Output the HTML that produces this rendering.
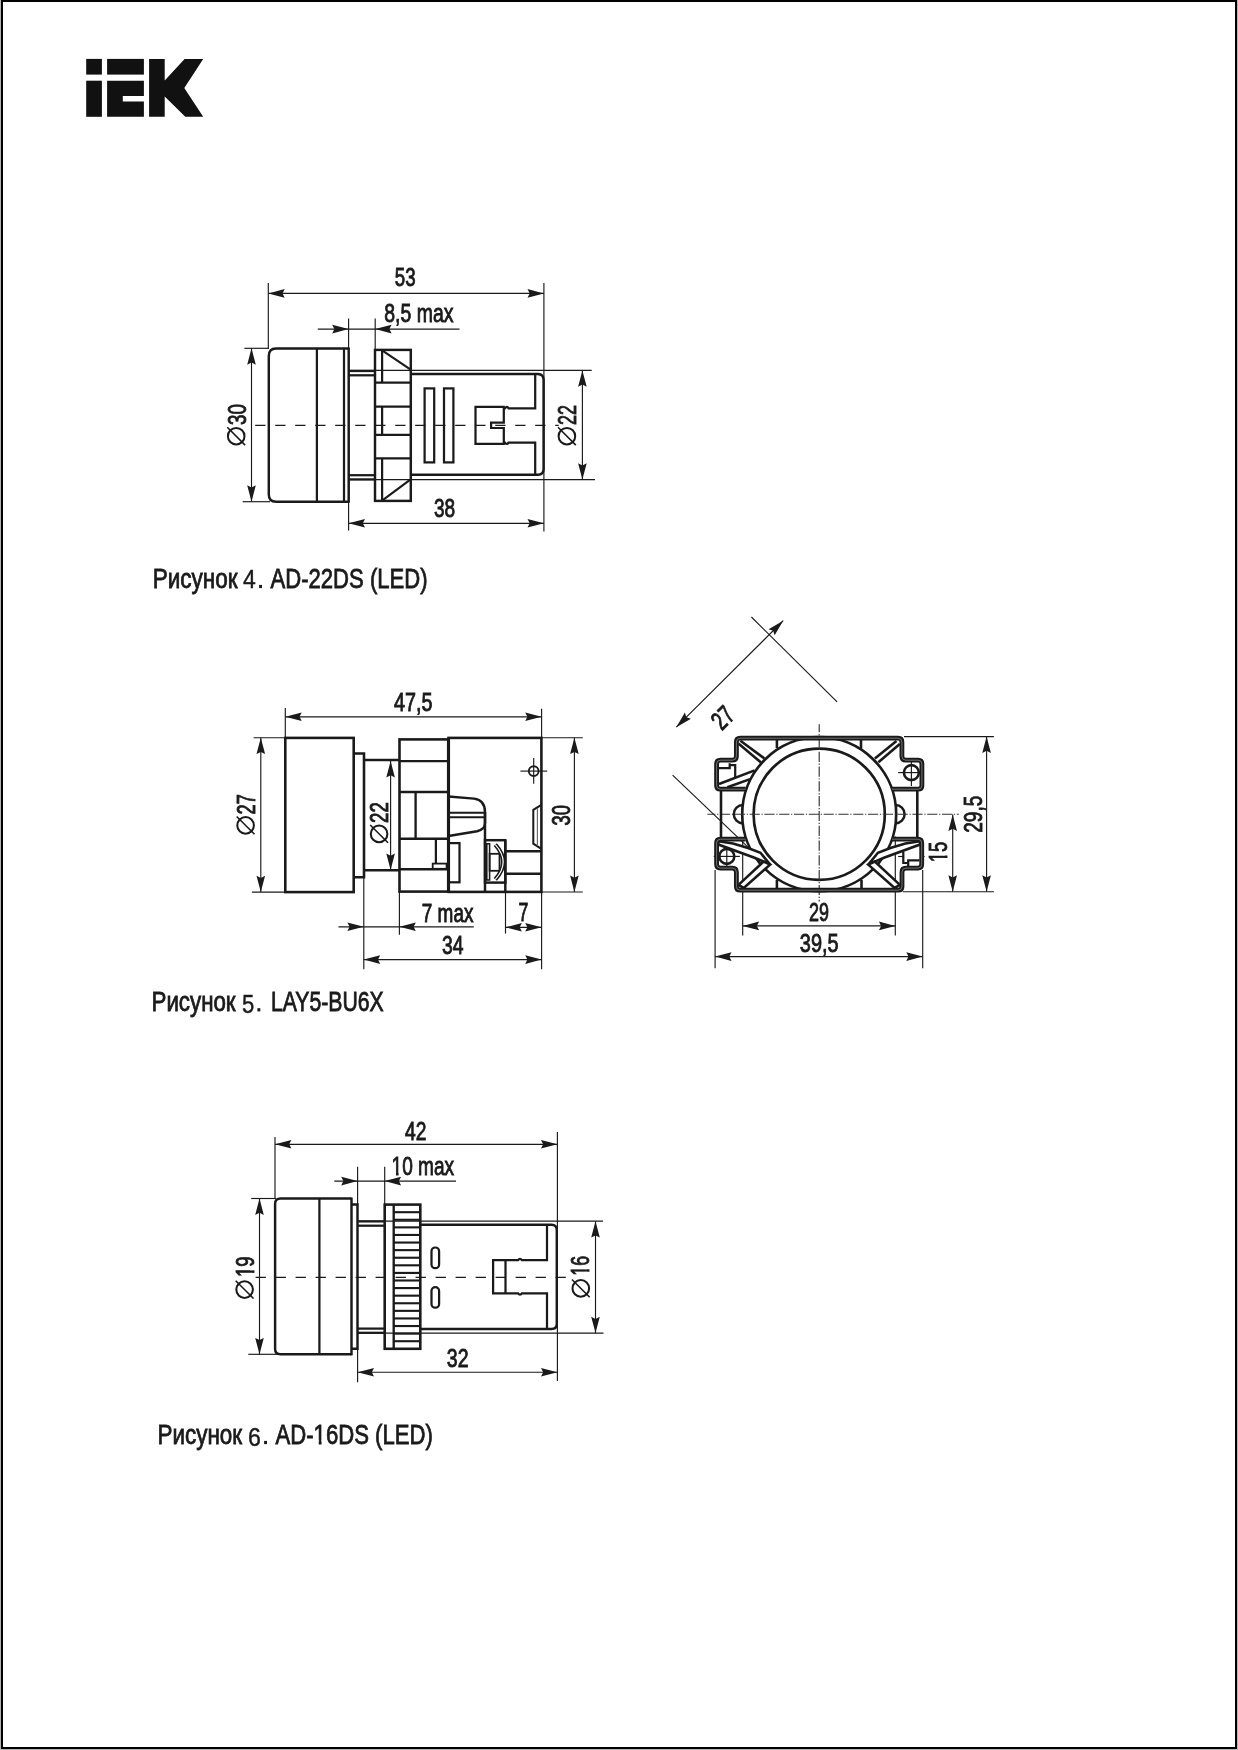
<!DOCTYPE html>
<html><head><meta charset="utf-8"><title>IEK</title>
<style>
html,body{margin:0;padding:0;background:#fff;}
body{width:1238px;height:1750px;overflow:hidden;font-family:"Liberation Sans",sans-serif;}
svg{display:block;will-change:transform;font-family:"Liberation Sans",sans-serif;}
</style></head><body>
<svg width="1238" height="1750" viewBox="0 0 1238 1750" stroke-linecap="butt">
<rect x="0" y="0" width="1238" height="1750" fill="#b4b4b4"/>
<rect x="1" y="0" width="1236" height="1749" fill="#000"/>
<rect x="3" y="2" width="1232" height="1745" fill="#fff"/>
<g fill="#111">
<rect x="86.2" y="58.9" width="15.7" height="15.7"/>
<rect x="86.2" y="80.7" width="15.7" height="36.1"/>
<rect x="107.1" y="58.9" width="36.8" height="15.7"/>
<path d="M107.1,80.7H143.9V96H122.8V101.4H143.9V116.8H107.1Z"/>
<path d="M149.1,58.9H164.7V80.5L184.6,58.9H203.2L184.3,88L203.2,116.8H185.3L164.7,96.5V116.8H149.1Z"/>
</g>
<line x1="268.3" y1="282.9" x2="268.3" y2="349" stroke="#1a1a1a" stroke-width="1.15" />
<line x1="543.9" y1="282.9" x2="543.9" y2="531.6" stroke="#1a1a1a" stroke-width="1.15" />
<line x1="348.6" y1="318.5" x2="348.6" y2="349" stroke="#1a1a1a" stroke-width="1.15" />
<line x1="348.6" y1="501" x2="348.6" y2="530.5" stroke="#1a1a1a" stroke-width="1.15" />
<line x1="375.2" y1="318.5" x2="375.2" y2="351" stroke="#1a1a1a" stroke-width="1.15" />
<line x1="268.3" y1="293.4" x2="543.9" y2="293.4" stroke="#1a1a1a" stroke-width="1.15" />
<polygon points="268.3,293.4 284.7,289.1 282.5,293.4 284.7,297.7" fill="#1a1a1a"/>
<polygon points="543.9,293.4 527.5,297.7 529.7,293.4 527.5,289.1" fill="#1a1a1a"/>
<line x1="317.8" y1="329.1" x2="459.5" y2="329.1" stroke="#1a1a1a" stroke-width="1.15" />
<polygon points="348.6,329.1 332.2,333.4 334.4,329.1 332.2,324.8" fill="#1a1a1a"/>
<polygon points="375.2,329.1 391.6,324.8 389.4,329.1 391.6,333.4" fill="#1a1a1a"/>
<line x1="244.4" y1="348.3" x2="269" y2="348.3" stroke="#1a1a1a" stroke-width="1.15" />
<line x1="242.7" y1="501.7" x2="270" y2="501.7" stroke="#1a1a1a" stroke-width="1.15" />
<line x1="251.5" y1="348.3" x2="251.5" y2="501.7" stroke="#1a1a1a" stroke-width="1.15" />
<polygon points="251.5,348.3 255.8,364.7 251.5,362.5 247.2,364.7" fill="#1a1a1a"/>
<polygon points="251.5,501.7 247.2,485.3 251.5,487.5 255.8,485.3" fill="#1a1a1a"/>
<line x1="348.6" y1="370.4" x2="591.7" y2="370.4" stroke="#1a1a1a" stroke-width="1.15" />
<line x1="348.6" y1="479.6" x2="595" y2="479.6" stroke="#1a1a1a" stroke-width="1.15" />
<line x1="582.4" y1="370.4" x2="582.4" y2="479.6" stroke="#1a1a1a" stroke-width="1.15" />
<polygon points="582.4,370.4 586.7,386.8 582.4,384.6 578.1,386.8" fill="#1a1a1a"/>
<polygon points="582.4,479.6 578.1,463.2 582.4,465.4 586.7,463.2" fill="#1a1a1a"/>
<line x1="348.6" y1="523.3" x2="543.9" y2="523.3" stroke="#1a1a1a" stroke-width="1.15" />
<polygon points="348.6,523.3 365,519 362.8,523.3 365,527.6" fill="#1a1a1a"/>
<polygon points="543.9,523.3 527.5,527.6 529.7,523.3 527.5,519" fill="#1a1a1a"/>
<line x1="255.2" y1="425.3" x2="558.7" y2="425.3" stroke="#1a1a1a" stroke-width="1.15" stroke-dasharray="10.3 9.7"/>
<path d="M348.7,348.5H276Q268.8,348.5 268.8,356V494.5Q268.8,501.7 276,501.7H348.7" stroke="#1a1a1a" stroke-width="2.46" fill="none" />
<line x1="316.9" y1="348.5" x2="316.9" y2="501.7" stroke="#1a1a1a" stroke-width="2.24" />
<line x1="344" y1="348.5" x2="344" y2="501.7" stroke="#1a1a1a" stroke-width="2.24" />
<line x1="348.7" y1="347.5" x2="348.7" y2="502.7" stroke="#1a1a1a" stroke-width="2.46" />
<line x1="348.7" y1="371" x2="375" y2="371" stroke="#1a1a1a" stroke-width="2.24" />
<line x1="348.7" y1="375.3" x2="375" y2="375.3" stroke="#1a1a1a" stroke-width="2.24" />
<line x1="348.7" y1="475.2" x2="375" y2="475.2" stroke="#1a1a1a" stroke-width="2.24" />
<line x1="348.7" y1="479.4" x2="375" y2="479.4" stroke="#1a1a1a" stroke-width="2.24" />
<rect x="375" y="349.9" width="35.8" height="151" rx="0" stroke="#1a1a1a" stroke-width="2.46" fill="none"/>
<line x1="375" y1="382.7" x2="410.8" y2="382.7" stroke="#1a1a1a" stroke-width="2.24" />
<line x1="375" y1="406.6" x2="410.8" y2="406.6" stroke="#1a1a1a" stroke-width="2.24" />
<line x1="375" y1="434.9" x2="410.8" y2="434.9" stroke="#1a1a1a" stroke-width="2.24" />
<line x1="375" y1="458.3" x2="410.8" y2="458.3" stroke="#1a1a1a" stroke-width="2.24" />
<line x1="382.1" y1="349.9" x2="382.1" y2="382.7" stroke="#1a1a1a" stroke-width="2.24" />
<line x1="382.1" y1="406.6" x2="382.1" y2="434.9" stroke="#1a1a1a" stroke-width="2.24" />
<line x1="382.1" y1="458.3" x2="382.1" y2="500.9" stroke="#1a1a1a" stroke-width="2.24" />
<line x1="382.1" y1="350.3" x2="410.3" y2="369.4" stroke="#1a1a1a" stroke-width="2.13" />
<line x1="382.4" y1="500.4" x2="410.3" y2="479.6" stroke="#1a1a1a" stroke-width="2.13" />
<path d="M410.8,374.0H538Q543.6,374.3 543.6,380V469Q543.6,474.7 538,474.7H410.8" stroke="#1a1a1a" stroke-width="2.46" fill="none" />
<rect x="424.6" y="388.4" width="9.6" height="74" rx="0" stroke="#1a1a1a" stroke-width="2.24" fill="none"/>
<rect x="444" y="388.4" width="9.4" height="74" rx="0" stroke="#1a1a1a" stroke-width="2.24" fill="none"/>
<path d="M535.2,374.3V408.3H508.5Q507,405.5 505,408.3H503.8" stroke="#1a1a1a" stroke-width="2.24" fill="none" />
<path d="M535.2,474.7V442.6H508.5Q507,445.4 505,442.6H503.8" stroke="#1a1a1a" stroke-width="2.24" fill="none" />
<path d="M503.8,406.8H475.5V443.8H503.8V428H491.1V422.6H503.8Z" stroke="#1a1a1a" stroke-width="2.24" fill="none" />
<g transform="translate(394.8,285.9) scale(0.7203,1)"><text font-size="26" fill="#1a1a1a" stroke="#1a1a1a" stroke-width="0.8" vector-effect="non-scaling-stroke">53</text></g>
<g transform="translate(384.3,322.3) scale(0.7481,1)"><text font-size="26" fill="#1a1a1a" stroke="#1a1a1a" stroke-width="0.8" vector-effect="non-scaling-stroke">8,5 max</text></g>
<g transform="translate(433.9,517.2) scale(0.7342,1)"><text font-size="26" fill="#1a1a1a" stroke="#1a1a1a" stroke-width="0.8" vector-effect="non-scaling-stroke">38</text></g>
<g transform="translate(246,424.9) rotate(-90) scale(0.7203,1)"><text font-size="26" fill="#1a1a1a" stroke="#1a1a1a" stroke-width="0.8" vector-effect="non-scaling-stroke">30</text></g>
<circle cx="236.2" cy="436.2" r="8.3" stroke="#1a1a1a" stroke-width="2.02" fill="none"/>
<line x1="227.3" y1="427.3" x2="245.1" y2="445.1" stroke="#1a1a1a" stroke-width="1.57" />
<g transform="translate(575.9,424.9) rotate(-90) scale(0.6892,1)"><text font-size="26" fill="#1a1a1a" stroke="#1a1a1a" stroke-width="0.8" vector-effect="non-scaling-stroke">22</text></g>
<circle cx="566.9" cy="436.2" r="8.3" stroke="#1a1a1a" stroke-width="2.02" fill="none"/>
<line x1="558" y1="427.3" x2="575.8" y2="445.1" stroke="#1a1a1a" stroke-width="1.57" />
<line x1="285.3" y1="708" x2="285.3" y2="738" stroke="#1a1a1a" stroke-width="1.15" />
<line x1="541.6" y1="708.8" x2="541.6" y2="738" stroke="#1a1a1a" stroke-width="1.15" />
<line x1="541.6" y1="891" x2="541.6" y2="969.3" stroke="#1a1a1a" stroke-width="1.15" />
<line x1="285.3" y1="716.8" x2="541.6" y2="716.8" stroke="#1a1a1a" stroke-width="1.15" />
<polygon points="285.3,716.8 301.7,712.5 299.5,716.8 301.7,721.1" fill="#1a1a1a"/>
<polygon points="541.6,716.8 525.2,721.1 527.4,716.8 525.2,712.5" fill="#1a1a1a"/>
<line x1="253.6" y1="737.7" x2="285.3" y2="737.7" stroke="#1a1a1a" stroke-width="1.15" />
<line x1="251.9" y1="892.1" x2="285.3" y2="892.1" stroke="#1a1a1a" stroke-width="1.15" />
<line x1="260.8" y1="737.7" x2="260.8" y2="892.1" stroke="#1a1a1a" stroke-width="1.15" />
<polygon points="260.8,737.7 265.1,754.1 260.8,751.9 256.5,754.1" fill="#1a1a1a"/>
<polygon points="260.8,892.1 256.5,875.7 260.8,877.9 265.1,875.7" fill="#1a1a1a"/>
<line x1="390.6" y1="761" x2="390.6" y2="870" stroke="#1a1a1a" stroke-width="1.15" />
<polygon points="390.6,761 394.9,777.4 390.6,775.2 386.3,777.4" fill="#1a1a1a"/>
<polygon points="390.6,870 386.3,853.6 390.6,855.8 394.9,853.6" fill="#1a1a1a"/>
<line x1="541.6" y1="737.7" x2="582.8" y2="737.7" stroke="#1a1a1a" stroke-width="1.15" />
<line x1="541.6" y1="892" x2="582.8" y2="892" stroke="#1a1a1a" stroke-width="1.15" />
<line x1="574.4" y1="737.7" x2="574.4" y2="892" stroke="#1a1a1a" stroke-width="1.15" />
<polygon points="574.4,737.7 578.7,754.1 574.4,751.9 570.1,754.1" fill="#1a1a1a"/>
<polygon points="574.4,892 570.1,875.6 574.4,877.8 578.7,875.6" fill="#1a1a1a"/>
<line x1="363.8" y1="870.4" x2="363.8" y2="969.3" stroke="#1a1a1a" stroke-width="1.15" />
<line x1="399.4" y1="891.6" x2="399.4" y2="934.7" stroke="#1a1a1a" stroke-width="1.15" />
<line x1="505.5" y1="892" x2="505.5" y2="933.6" stroke="#1a1a1a" stroke-width="1.15" />
<line x1="338.5" y1="926.8" x2="473.8" y2="926.8" stroke="#1a1a1a" stroke-width="1.15" />
<polygon points="363.8,926.8 347.4,931.1 349.6,926.8 347.4,922.5" fill="#1a1a1a"/>
<polygon points="399.4,926.8 415.8,922.5 413.6,926.8 415.8,931.1" fill="#1a1a1a"/>
<line x1="505.5" y1="927.3" x2="541.6" y2="927.3" stroke="#1a1a1a" stroke-width="1.15" />
<polygon points="505.5,927.3 521.9,923 519.7,927.3 521.9,931.6" fill="#1a1a1a"/>
<polygon points="541.6,927.3 525.2,931.6 527.4,927.3 525.2,923" fill="#1a1a1a"/>
<line x1="363.8" y1="959.6" x2="541.6" y2="959.6" stroke="#1a1a1a" stroke-width="1.15" />
<polygon points="363.8,959.6 380.2,955.3 378,959.6 380.2,963.9" fill="#1a1a1a"/>
<polygon points="541.6,959.6 525.2,963.9 527.4,959.6 525.2,955.3" fill="#1a1a1a"/>
<line x1="520.4" y1="771.1" x2="547.2" y2="771.1" stroke="#1a1a1a" stroke-width="1.15" />
<line x1="533.7" y1="758" x2="533.7" y2="783.8" stroke="#1a1a1a" stroke-width="1.15" />
<rect x="285.3" y="737.9" width="68.4" height="154.2" rx="0" stroke="#1a1a1a" stroke-width="2.58" fill="none"/>
<path d="M353.7,753.5H364V877.2H353.7" stroke="#1a1a1a" stroke-width="2.58" fill="none" />
<line x1="364" y1="759.9" x2="399.5" y2="759.9" stroke="#1a1a1a" stroke-width="2.46" />
<line x1="364" y1="870.3" x2="399.5" y2="870.3" stroke="#1a1a1a" stroke-width="2.46" />
<rect x="399.5" y="739.4" width="49" height="152.2" rx="0" stroke="#1a1a1a" stroke-width="2.58" fill="none"/>
<line x1="399.5" y1="761.1" x2="448.5" y2="761.1" stroke="#1a1a1a" stroke-width="2.35" />
<line x1="399.5" y1="792" x2="448.5" y2="792" stroke="#1a1a1a" stroke-width="2.35" />
<line x1="399.5" y1="838.7" x2="448.5" y2="838.7" stroke="#1a1a1a" stroke-width="2.35" />
<line x1="399.5" y1="869.2" x2="448.5" y2="869.2" stroke="#1a1a1a" stroke-width="2.35" />
<line x1="415.6" y1="792" x2="415.6" y2="838.7" stroke="#1a1a1a" stroke-width="2.35" />
<line x1="435.9" y1="838.7" x2="435.9" y2="864" stroke="#1a1a1a" stroke-width="2.24" />
<rect x="432.7" y="863.6" width="13.9" height="5.2" rx="0" stroke="#1a1a1a" stroke-width="1.79" fill="none"/>
<rect x="448.5" y="737.9" width="92.9" height="154" rx="0" stroke="#1a1a1a" stroke-width="2.58" fill="none"/>
<line x1="448.5" y1="737.9" x2="448.5" y2="891.9" stroke="#1a1a1a" stroke-width="3.14" />
<circle cx="533.7" cy="771.1" r="4.9" stroke="#1a1a1a" stroke-width="1.9" fill="none"/>
<path d="M448.5,796.5L474,798.6Q485,800 485,812V823Q485,829.5 477,831.2L448.5,836" stroke="#1a1a1a" stroke-width="2.46" fill="none" />
<line x1="448.5" y1="812.7" x2="485" y2="812.7" stroke="#1a1a1a" stroke-width="2.02" />
<line x1="448.5" y1="817.2" x2="485" y2="817.2" stroke="#1a1a1a" stroke-width="2.02" />
<line x1="485" y1="812" x2="485" y2="892" stroke="#1a1a1a" stroke-width="2.46" />
<rect x="448.5" y="843.1" width="11" height="39.2" rx="0" stroke="#1a1a1a" stroke-width="2.24" fill="none"/>
<rect x="485" y="840.2" width="20.3" height="42.4" rx="0" stroke="#1a1a1a" stroke-width="2.46" fill="none"/>
<line x1="505.3" y1="840.2" x2="505.3" y2="892" stroke="#1a1a1a" stroke-width="2.46" />
<rect x="486.8" y="843.8" width="2.8" height="36.2" rx="0" stroke="#1a1a1a" stroke-width="1.57" fill="none"/>
<rect x="489.6" y="853.8" width="9.9" height="17" rx="0" stroke="#1a1a1a" stroke-width="1.79" fill="none"/>
<path d="M495.3,844.6Q511,862 495.3,879.4" stroke="#1a1a1a" stroke-width="4.26" fill="none" />
<path d="M495.3,844.6Q511,862 495.3,879.4" stroke="#fff" stroke-width="1.15" fill="none" />
<line x1="505.3" y1="851.2" x2="541.4" y2="851.2" stroke="#1a1a1a" stroke-width="2.46" />
<line x1="505.3" y1="873.8" x2="541.4" y2="873.8" stroke="#1a1a1a" stroke-width="2.46" />
<path d="M541.4,804.8L533.3,809.8V843.6L541.4,848.8" stroke="#1a1a1a" stroke-width="2.02" fill="none" />
<line x1="537.4" y1="808" x2="537.4" y2="846" stroke="#666" stroke-width="1.15" />
<g transform="translate(394,711.4) scale(0.7605,1)"><text font-size="26" fill="#1a1a1a" stroke="#1a1a1a" stroke-width="0.8" vector-effect="non-scaling-stroke">47,5</text></g>
<g transform="translate(254.6,814.4) rotate(-90) scale(0.7065,1)"><text font-size="26" fill="#1a1a1a" stroke="#1a1a1a" stroke-width="0.8" vector-effect="non-scaling-stroke">27</text></g>
<circle cx="245.6" cy="825.4" r="8.3" stroke="#1a1a1a" stroke-width="2.02" fill="none"/>
<line x1="236.7" y1="816.5" x2="254.5" y2="834.3" stroke="#1a1a1a" stroke-width="1.57" />
<g transform="translate(388,822.9) rotate(-90) scale(0.7203,1)"><text font-size="26" fill="#1a1a1a" stroke="#1a1a1a" stroke-width="0.8" vector-effect="non-scaling-stroke">22</text></g>
<circle cx="379.1" cy="833.9" r="8.3" stroke="#1a1a1a" stroke-width="2.02" fill="none"/>
<line x1="370.2" y1="825" x2="388" y2="842.8" stroke="#1a1a1a" stroke-width="1.57" />
<g transform="translate(570.1,825.5) rotate(-90) scale(0.7065,1)"><text font-size="26" fill="#1a1a1a" stroke="#1a1a1a" stroke-width="0.8" vector-effect="non-scaling-stroke">30</text></g>
<g transform="translate(421.8,921.8) scale(0.7293,1)"><text font-size="26" fill="#1a1a1a" stroke="#1a1a1a" stroke-width="0.8" vector-effect="non-scaling-stroke">7 max</text></g>
<g transform="translate(518.55,921.3) scale(0.6828,1)"><text font-size="26" fill="#1a1a1a" stroke="#1a1a1a" stroke-width="0.8" vector-effect="non-scaling-stroke">7</text></g>
<g transform="translate(442.1,953.9) scale(0.7446,1)"><text font-size="26" fill="#1a1a1a" stroke="#1a1a1a" stroke-width="0.8" vector-effect="non-scaling-stroke">34</text></g>
<line x1="904" y1="736.6" x2="993.9" y2="736.6" stroke="#1a1a1a" stroke-width="1.15" />
<line x1="903" y1="891.7" x2="993.9" y2="891.7" stroke="#1a1a1a" stroke-width="1.15" />
<line x1="986.6" y1="736.6" x2="986.6" y2="891.7" stroke="#1a1a1a" stroke-width="1.15" />
<polygon points="986.6,736.6 990.9,753 986.6,750.8 982.3,753" fill="#1a1a1a"/>
<polygon points="986.6,891.7 982.3,875.3 986.6,877.5 990.9,875.3" fill="#1a1a1a"/>
<line x1="952.7" y1="814.5" x2="952.7" y2="891.7" stroke="#1a1a1a" stroke-width="1.15" />
<polygon points="952.7,814.5 957,830.9 952.7,828.7 948.4,830.9" fill="#1a1a1a"/>
<polygon points="952.7,891.7 948.4,875.3 952.7,877.5 957,875.3" fill="#1a1a1a"/>
<line x1="715.1" y1="870" x2="715.1" y2="968.2" stroke="#1a1a1a" stroke-width="1.15" />
<line x1="922.7" y1="870" x2="922.7" y2="968.2" stroke="#1a1a1a" stroke-width="1.15" />
<line x1="742.7" y1="841" x2="742.7" y2="935.6" stroke="#1a1a1a" stroke-width="1.15" />
<line x1="895.3" y1="836.5" x2="895.3" y2="935.6" stroke="#1a1a1a" stroke-width="1.15" />
<line x1="742.7" y1="925.9" x2="895.3" y2="925.9" stroke="#1a1a1a" stroke-width="1.15" />
<polygon points="742.7,925.9 759.1,921.6 756.9,925.9 759.1,930.2" fill="#1a1a1a"/>
<polygon points="895.3,925.9 878.9,930.2 881.1,925.9 878.9,921.6" fill="#1a1a1a"/>
<line x1="715.1" y1="956.6" x2="922.7" y2="956.6" stroke="#1a1a1a" stroke-width="1.15" />
<polygon points="715.1,956.6 731.5,952.3 729.3,956.6 731.5,960.9" fill="#1a1a1a"/>
<polygon points="922.7,956.6 906.3,960.9 908.5,956.6 906.3,952.3" fill="#1a1a1a"/>
<line x1="676.3" y1="727.2" x2="783.2" y2="620.7" stroke="#1a1a1a" stroke-width="1.15" />
<polygon points="676.3,727.2 684.86,712.56 686.34,717.16 690.94,718.64" fill="#1a1a1a"/>
<polygon points="783.2,620.7 774.64,635.34 773.16,630.74 768.56,629.26" fill="#1a1a1a"/>
<line x1="751.4" y1="617" x2="837.1" y2="701.8" stroke="#1a1a1a" stroke-width="1.15" />
<line x1="672.6" y1="775.2" x2="762.4" y2="860.8" stroke="#1a1a1a" stroke-width="1.15" />
<circle cx="819.2" cy="814.2" r="77" stroke="#1a1a1a" stroke-width="2.69" fill="none"/>
<circle cx="819.2" cy="814.2" r="65.6" stroke="#1a1a1a" stroke-width="2.69" fill="none"/>
<path d="M743,805A9.2,9.2 0 0 0 743,823.4" stroke="#1a1a1a" stroke-width="2.46" fill="none" />
<path d="M895.4,805A9.2,9.2 0 0 1 895.4,823.4" stroke="#1a1a1a" stroke-width="2.46" fill="none" />
<line x1="707.4" y1="814.2" x2="958.8" y2="814.2" stroke="#333" stroke-width="1.15" stroke-dasharray="10.2 1.7 1.2 1.7" stroke-dashoffset="2.2"/>
<line x1="819.2" y1="724.3" x2="819.2" y2="901.5" stroke="#333" stroke-width="1.15" stroke-dasharray="10.2 1.7 1.2 1.7" stroke-dashoffset="2.2"/>
<line x1="898.1" y1="772.6" x2="924" y2="772.6" stroke="#1a1a1a" stroke-width="1.15" />
<line x1="911.4" y1="760" x2="911.4" y2="785.9" stroke="#1a1a1a" stroke-width="1.15" />
<line x1="713.7" y1="856.4" x2="739.9" y2="856.4" stroke="#1a1a1a" stroke-width="1.15" />
<line x1="726.8" y1="843" x2="726.8" y2="867.2" stroke="#1a1a1a" stroke-width="1.15" />
<line x1="898.1" y1="856.5" x2="903.6" y2="856.5" stroke="#1a1a1a" stroke-width="1.15" />
<line x1="921" y1="856.5" x2="924.6" y2="856.5" stroke="#1a1a1a" stroke-width="1.15" />
<line x1="721" y1="790.5" x2="721" y2="838.2" stroke="#1a1a1a" stroke-width="2.58" />
<line x1="917.3" y1="790.5" x2="917.3" y2="838.2" stroke="#1a1a1a" stroke-width="2.58" />
<line x1="740.4" y1="740.7" x2="764.3" y2="758.4" stroke="#1a1a1a" stroke-width="2.58" />
<line x1="738.4" y1="743.6" x2="761" y2="762.6" stroke="#1a1a1a" stroke-width="2.58" />
<line x1="776.9" y1="739.5" x2="776.9" y2="748" stroke="#1a1a1a" stroke-width="2.58" />
<line x1="861" y1="739.5" x2="861" y2="748.6" stroke="#1a1a1a" stroke-width="2.58" />
<path d="M718.7,768.1H729.7V763.2M729.7,765.2H735.2V778.1" stroke="#1a1a1a" stroke-width="2.24" fill="none" />
<line x1="719" y1="784" x2="754.6" y2="770.4" stroke="#1a1a1a" stroke-width="2.58" />
<line x1="727.4" y1="787.2" x2="750.1" y2="779.1" stroke="#1a1a1a" stroke-width="2.58" />
<line x1="874.9" y1="758.4" x2="896.5" y2="741" stroke="#1a1a1a" stroke-width="2.58" />
<line x1="878.4" y1="762.3" x2="899.8" y2="743.9" stroke="#1a1a1a" stroke-width="2.58" />
<circle cx="911.4" cy="772.6" r="7.5" stroke="#1a1a1a" stroke-width="2.58" fill="none"/>
<path d="M718.4,841.3L733,843.5L748,848L760.5,852.8L770.1,864.6L763.6,861.6L754.5,857.8L718.4,844.5Z" stroke="#1a1a1a" stroke-width="2.58" fill="#fff" stroke-linejoin="miter"/>
<path d="M738.5,884.9L763.6,861.6L770.1,864.6L743.8,887.9Z" stroke="#1a1a1a" stroke-width="2.58" fill="#fff" stroke-linejoin="miter"/>
<line x1="776.9" y1="888.5" x2="776.9" y2="880" stroke="#1a1a1a" stroke-width="2.58" />
<path d="M920,841.3L905.4,843.5L890.4,848L877.9,852.8L868.3,864.6L874.8,861.6L883.9,857.8L920,844.5Z" stroke="#1a1a1a" stroke-width="2.58" fill="#fff" stroke-linejoin="miter"/>
<path d="M899.9,884.9L874.8,861.6L868.3,864.6L894.6,887.9Z" stroke="#1a1a1a" stroke-width="2.58" fill="#fff" stroke-linejoin="miter"/>
<line x1="861.5" y1="888.5" x2="861.5" y2="880" stroke="#1a1a1a" stroke-width="2.58" />
<circle cx="726.8" cy="856.4" r="7.5" stroke="#1a1a1a" stroke-width="2.58" fill="none"/>
<path d="M903.3,852V863H908.2M908.2,865.9V860.4H919.5" stroke="#1a1a1a" stroke-width="2.24" fill="none" />
<path d="M745.6,789.2H720.4Q716.6,789.2 716.6,785.4V764Q716.6,760.2 720.4,760.2H732.4Q736.4,760.2 736.4,756.2V742Q736.4,738.2 740.2,738.2H898.1Q901.9,738.2 901.9,742V756.2Q901.9,760.2 905.9,760.2H918.1Q921.9,760.2 921.9,764V785.4Q921.9,789.2 918.1,789.2H892" stroke="#1a1a1a" stroke-width="4.82" fill="none" stroke-linejoin="round"/>
<path d="M745.6,789.2H720.4Q716.6,789.2 716.6,785.4V764Q716.6,760.2 720.4,760.2H732.4Q736.4,760.2 736.4,756.2V742Q736.4,738.2 740.2,738.2H898.1Q901.9,738.2 901.9,742V756.2Q901.9,760.2 905.9,760.2H918.1Q921.9,760.2 921.9,764V785.4Q921.9,789.2 918.1,789.2H892" stroke="#9a9a9a" stroke-width="0.7" fill="none" />
<path d="M745.6,839.2H720.4Q716.6,839.2 716.6,843V864.3Q716.6,868.1 720.4,868.1H732.4Q736.4,868.1 736.4,872.1V886.4Q736.4,890.2 740.2,890.2H898.2Q902,890.2 902,886.4V872.1Q902,868.1 906,868.1H917.9Q921.7,868.1 921.7,864.3V843Q921.7,839.2 917.9,839.2H892" stroke="#1a1a1a" stroke-width="4.82" fill="none" stroke-linejoin="round"/>
<path d="M745.6,839.2H720.4Q716.6,839.2 716.6,843V864.3Q716.6,868.1 720.4,868.1H732.4Q736.4,868.1 736.4,872.1V886.4Q736.4,890.2 740.2,890.2H898.2Q902,890.2 902,886.4V872.1Q902,868.1 906,868.1H917.9Q921.7,868.1 921.7,864.3V843Q921.7,839.2 917.9,839.2H892" stroke="#9a9a9a" stroke-width="0.7" fill="none" />
<g transform="translate(721.67,731.19) rotate(-45) scale(0.7065,1)"><text font-size="26" fill="#1a1a1a" stroke="#1a1a1a" stroke-width="0.8" vector-effect="non-scaling-stroke">27</text></g>
<g transform="translate(982.4,832.7) rotate(-90) scale(0.7309,1)"><text font-size="26" fill="#1a1a1a" stroke="#1a1a1a" stroke-width="0.8" vector-effect="non-scaling-stroke">29,5</text></g>
<g transform="translate(947.2,862.17) rotate(-90) scale(0.7054,1)"><text font-size="26" fill="#1a1a1a" stroke="#1a1a1a" stroke-width="0.8" vector-effect="non-scaling-stroke">15</text><rect x="0.38" y="-3.44" width="5.52" height="4.84" fill="#fff"/><rect x="9.47" y="-3.44" width="5.32" height="4.84" fill="#fff"/></g>
<g transform="translate(809,920.7) scale(0.6892,1)"><text font-size="26" fill="#1a1a1a" stroke="#1a1a1a" stroke-width="0.8" vector-effect="non-scaling-stroke">29</text></g>
<g transform="translate(799.8,951.7) scale(0.7664,1)"><text font-size="26" fill="#1a1a1a" stroke="#1a1a1a" stroke-width="0.8" vector-effect="non-scaling-stroke">39,5</text></g>
<line x1="275" y1="1137.1" x2="275" y2="1199" stroke="#1a1a1a" stroke-width="1.15" />
<line x1="557.4" y1="1132" x2="557.4" y2="1381" stroke="#1a1a1a" stroke-width="1.15" />
<line x1="275" y1="1144.3" x2="557.4" y2="1144.3" stroke="#1a1a1a" stroke-width="1.15" />
<polygon points="275,1144.3 291.4,1140 289.2,1144.3 291.4,1148.6" fill="#1a1a1a"/>
<polygon points="557.4,1144.3 541,1148.6 543.2,1144.3 541,1140" fill="#1a1a1a"/>
<line x1="357.6" y1="1166.8" x2="357.6" y2="1205" stroke="#1a1a1a" stroke-width="1.15" />
<line x1="357.6" y1="1348.5" x2="357.6" y2="1382.3" stroke="#1a1a1a" stroke-width="1.15" />
<line x1="384.7" y1="1166.8" x2="384.7" y2="1205" stroke="#1a1a1a" stroke-width="1.15" />
<line x1="334.3" y1="1181.1" x2="456" y2="1181.1" stroke="#1a1a1a" stroke-width="1.15" />
<polygon points="357.6,1181.1 341.2,1185.4 343.4,1181.1 341.2,1176.8" fill="#1a1a1a"/>
<polygon points="384.7,1181.1 401.1,1176.8 398.9,1181.1 401.1,1185.4" fill="#1a1a1a"/>
<line x1="251.2" y1="1198.5" x2="276" y2="1198.5" stroke="#1a1a1a" stroke-width="1.15" />
<line x1="248.3" y1="1354.3" x2="278" y2="1354.3" stroke="#1a1a1a" stroke-width="1.15" />
<line x1="259.5" y1="1198.5" x2="259.5" y2="1354.3" stroke="#1a1a1a" stroke-width="1.15" />
<polygon points="259.5,1198.5 263.8,1214.9 259.5,1212.7 255.2,1214.9" fill="#1a1a1a"/>
<polygon points="259.5,1354.3 255.2,1337.9 259.5,1340.1 263.8,1337.9" fill="#1a1a1a"/>
<line x1="357.6" y1="1221.1" x2="603" y2="1221.1" stroke="#1a1a1a" stroke-width="1.15" />
<line x1="357.6" y1="1333.1" x2="603.5" y2="1333.1" stroke="#1a1a1a" stroke-width="1.15" />
<line x1="595.5" y1="1221.2" x2="595.5" y2="1333.1" stroke="#1a1a1a" stroke-width="1.15" />
<polygon points="595.5,1221.2 599.8,1237.6 595.5,1235.4 591.2,1237.6" fill="#1a1a1a"/>
<polygon points="595.5,1333.1 591.2,1316.7 595.5,1318.9 599.8,1316.7" fill="#1a1a1a"/>
<line x1="357.6" y1="1372.2" x2="557.4" y2="1372.2" stroke="#1a1a1a" stroke-width="1.15" />
<polygon points="357.6,1372.2 374,1367.9 371.8,1372.2 374,1376.5" fill="#1a1a1a"/>
<polygon points="557.4,1372.2 541,1376.5 543.2,1372.2 541,1367.9" fill="#1a1a1a"/>
<line x1="255.6" y1="1277.3" x2="565.8" y2="1277.3" stroke="#1a1a1a" stroke-width="1.15" stroke-dasharray="10.3 9.7"/>
<path d="M351.5,1198.6H280.5Q275.1,1198.6 275.1,1204V1349Q275.1,1354.3 280.5,1354.3H351.5" stroke="#1a1a1a" stroke-width="2.46" fill="none" />
<line x1="319.4" y1="1198.6" x2="319.4" y2="1354.3" stroke="#1a1a1a" stroke-width="2.24" />
<line x1="351.5" y1="1197.6" x2="351.5" y2="1355.3" stroke="#1a1a1a" stroke-width="2.46" />
<path d="M351.5,1204.6H357.5V1348.8H351.5" stroke="#1a1a1a" stroke-width="2.46" fill="none" />
<line x1="357.5" y1="1221.4" x2="384.7" y2="1221.4" stroke="#1a1a1a" stroke-width="2.24" />
<line x1="357.5" y1="1225.7" x2="384.7" y2="1225.7" stroke="#1a1a1a" stroke-width="2.24" />
<line x1="357.5" y1="1328.6" x2="384.7" y2="1328.6" stroke="#1a1a1a" stroke-width="2.24" />
<line x1="357.5" y1="1332.8" x2="384.7" y2="1332.8" stroke="#1a1a1a" stroke-width="2.24" />
<rect x="384.7" y="1204.6" width="35.6" height="144.2" rx="0" stroke="#1a1a1a" stroke-width="2.58" fill="none"/>
<line x1="393.7" y1="1204.6" x2="393.7" y2="1348.8" stroke="#1a1a1a" stroke-width="2.35" />
<line x1="393.7" y1="1212.19" x2="420.3" y2="1212.19" stroke="#1a1a1a" stroke-width="2.13" />
<line x1="393.7" y1="1219.78" x2="420.3" y2="1219.78" stroke="#1a1a1a" stroke-width="2.13" />
<line x1="393.7" y1="1227.37" x2="420.3" y2="1227.37" stroke="#1a1a1a" stroke-width="2.13" />
<line x1="393.7" y1="1234.96" x2="420.3" y2="1234.96" stroke="#1a1a1a" stroke-width="2.13" />
<line x1="393.7" y1="1242.55" x2="420.3" y2="1242.55" stroke="#1a1a1a" stroke-width="2.13" />
<line x1="393.7" y1="1250.14" x2="420.3" y2="1250.14" stroke="#1a1a1a" stroke-width="2.13" />
<line x1="393.7" y1="1257.73" x2="420.3" y2="1257.73" stroke="#1a1a1a" stroke-width="2.13" />
<line x1="393.7" y1="1265.32" x2="420.3" y2="1265.32" stroke="#1a1a1a" stroke-width="2.13" />
<line x1="393.7" y1="1272.91" x2="420.3" y2="1272.91" stroke="#1a1a1a" stroke-width="2.13" />
<line x1="393.7" y1="1280.49" x2="420.3" y2="1280.49" stroke="#1a1a1a" stroke-width="2.13" />
<line x1="393.7" y1="1288.08" x2="420.3" y2="1288.08" stroke="#1a1a1a" stroke-width="2.13" />
<line x1="393.7" y1="1295.67" x2="420.3" y2="1295.67" stroke="#1a1a1a" stroke-width="2.13" />
<line x1="393.7" y1="1303.26" x2="420.3" y2="1303.26" stroke="#1a1a1a" stroke-width="2.13" />
<line x1="393.7" y1="1310.85" x2="420.3" y2="1310.85" stroke="#1a1a1a" stroke-width="2.13" />
<line x1="393.7" y1="1318.44" x2="420.3" y2="1318.44" stroke="#1a1a1a" stroke-width="2.13" />
<line x1="393.7" y1="1326.03" x2="420.3" y2="1326.03" stroke="#1a1a1a" stroke-width="2.13" />
<line x1="393.7" y1="1333.62" x2="420.3" y2="1333.62" stroke="#1a1a1a" stroke-width="2.13" />
<line x1="393.7" y1="1341.21" x2="420.3" y2="1341.21" stroke="#1a1a1a" stroke-width="2.13" />
<path d="M420.3,1224.8H551.5Q556.8,1224.8 556.8,1230.2V1323.8Q556.8,1329.1 551.5,1329.1H420.3" stroke="#1a1a1a" stroke-width="2.46" fill="none" />
<path d="M547,1224.8V1260.2H522Q520,1257.6 518,1260.2H493.1V1293.3H518Q520,1295.9 522,1293.3H547V1329.1" stroke="#1a1a1a" stroke-width="2.24" fill="none" />
<line x1="505.5" y1="1260.2" x2="505.5" y2="1293.3" stroke="#1a1a1a" stroke-width="2.24" />
<rect x="431.5" y="1247.5" width="7.6" height="20.7" rx="3.8" stroke="#1a1a1a" stroke-width="2.24" fill="none"/>
<rect x="431.5" y="1287.1" width="7.6" height="20.6" rx="3.8" stroke="#1a1a1a" stroke-width="2.24" fill="none"/>
<g transform="translate(405.1,1139.6) scale(0.7411,1)"><text font-size="26" fill="#1a1a1a" stroke="#1a1a1a" stroke-width="0.8" vector-effect="non-scaling-stroke">42</text></g>
<g transform="translate(391.62,1175.1) scale(0.7329,1)"><text font-size="26" fill="#1a1a1a" stroke="#1a1a1a" stroke-width="0.8" vector-effect="non-scaling-stroke">10 max</text><rect x="0.38" y="-3.44" width="5.54" height="4.84" fill="#fff"/><rect x="9.45" y="-3.44" width="5.34" height="4.84" fill="#fff"/></g>
<g transform="translate(446.8,1366.6) scale(0.7515,1)"><text font-size="26" fill="#1a1a1a" stroke="#1a1a1a" stroke-width="0.8" vector-effect="non-scaling-stroke">32</text></g>
<g transform="translate(253.7,1277.12) rotate(-90) scale(0.7159,1)"><text font-size="26" fill="#1a1a1a" stroke="#1a1a1a" stroke-width="0.8" vector-effect="non-scaling-stroke">19</text><rect x="0.38" y="-3.44" width="5.53" height="4.84" fill="#fff"/><rect x="9.46" y="-3.44" width="5.33" height="4.84" fill="#fff"/></g>
<circle cx="244.6" cy="1289.6" r="8.3" stroke="#1a1a1a" stroke-width="2.02" fill="none"/>
<line x1="235.7" y1="1280.7" x2="253.5" y2="1298.5" stroke="#1a1a1a" stroke-width="1.57" />
<g transform="translate(589.2,1275.76) rotate(-90) scale(0.6842,1)"><text font-size="26" fill="#1a1a1a" stroke="#1a1a1a" stroke-width="0.8" vector-effect="non-scaling-stroke">16</text><rect x="0.38" y="-3.44" width="5.5" height="4.84" fill="#fff"/><rect x="9.49" y="-3.44" width="5.3" height="4.84" fill="#fff"/></g>
<circle cx="580.8" cy="1288.4" r="8.3" stroke="#1a1a1a" stroke-width="2.02" fill="none"/>
<line x1="571.9" y1="1279.5" x2="589.7" y2="1297.3" stroke="#1a1a1a" stroke-width="1.57" />
<g transform="translate(152.8,587.9) scale(0.7898,1)"><text font-size="28.5" fill="#1a1a1a" stroke="#1a1a1a" stroke-width="0.75" vector-effect="non-scaling-stroke">Рисунок</text></g>
<text transform="translate(243.1,588.3) scale(0.8828,1)" font-size="26.0" fill="#1a1a1a" stroke="#1a1a1a" stroke-width="0.45">4</text>
<rect x="259.1" y="584.9" width="2.9" height="3.2" fill="#1a1a1a"/>
<g transform="translate(270.5,587.9) scale(0.7753,1)"><text font-size="28.5" fill="#1a1a1a" stroke="#1a1a1a" stroke-width="0.75" vector-effect="non-scaling-stroke">AD-22DS (LED)</text></g>
<g transform="translate(151.5,1011.2) scale(0.7833,1)"><text font-size="28.5" fill="#1a1a1a" stroke="#1a1a1a" stroke-width="0.75" vector-effect="non-scaling-stroke">Рисунок</text></g>
<text transform="translate(241.9,1012.8) scale(0.8483,1)" font-size="26.0" fill="#1a1a1a" stroke="#1a1a1a" stroke-width="0.45">5</text>
<rect x="257.4" y="1008.2" width="2.9" height="3.2" fill="#1a1a1a"/>
<g transform="translate(271,1011.2) scale(0.7446,1)"><text font-size="28.5" fill="#1a1a1a" stroke="#1a1a1a" stroke-width="0.75" vector-effect="non-scaling-stroke">LAY5-BU6X</text></g>
<g transform="translate(157.6,1443.9) scale(0.7870,1)"><text font-size="28.5" fill="#1a1a1a" stroke="#1a1a1a" stroke-width="0.75" vector-effect="non-scaling-stroke">Рисунок</text></g>
<text transform="translate(248.1,1445.5) scale(0.8897,1)" font-size="26.0" fill="#1a1a1a" stroke="#1a1a1a" stroke-width="0.45">6</text>
<rect x="264.1" y="1440.9" width="2.9" height="3.2" fill="#1a1a1a"/>
<g transform="translate(275.5,1443.9) scale(0.7763,1)"><text font-size="28.5" fill="#1a1a1a" stroke="#1a1a1a" stroke-width="0.75" vector-effect="non-scaling-stroke">AD-16DS (LED)</text><rect x="49.65" y="-3.63" width="6.02" height="5.03" fill="#fff"/><rect x="59.35" y="-3.63" width="5.79" height="5.03" fill="#fff"/></g>
</svg>
</body></html>
